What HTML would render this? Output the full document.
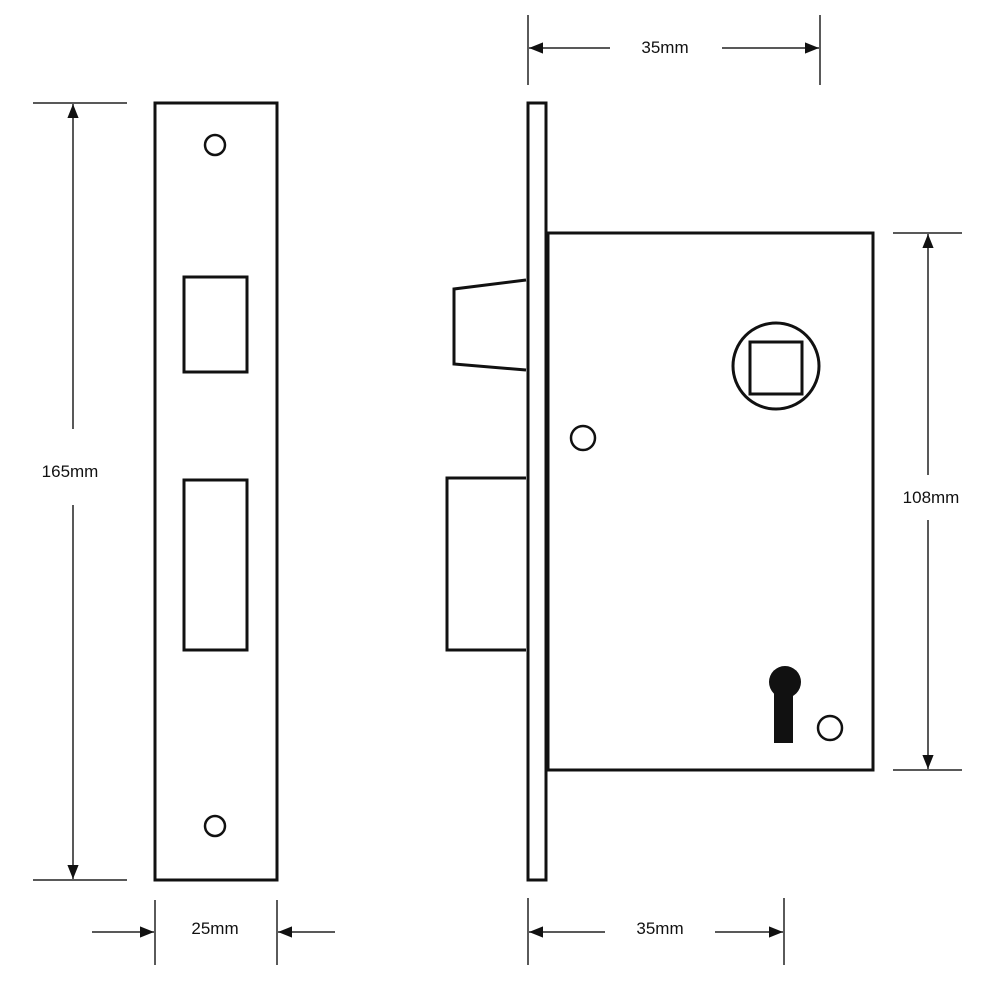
<!DOCTYPE html>
<html><head><style>html,body{margin:0;padding:0;background:#fff}</style></head><body>
<svg width="1000" height="1000" viewBox="0 0 1000 1000" xmlns="http://www.w3.org/2000/svg">
<defs>
<marker id="a" viewBox="0 0 10 10" refX="10" refY="5" markerWidth="14" markerHeight="14" markerUnits="userSpaceOnUse" orient="auto"><path d="M0,1 L10,5 L0,9 Z" fill="#111"/></marker>
</defs>
<g fill="none" stroke="#111" stroke-width="3">
<rect x="155" y="103" width="122" height="777"/>
<circle cx="215" cy="145" r="10" stroke-width="2.5"/>
<circle cx="215" cy="826" r="10" stroke-width="2.5"/>
<rect x="184" y="277" width="63" height="95"/>
<rect x="184" y="480" width="63" height="170"/>
<rect x="528" y="103" width="18" height="777"/>
<rect x="548" y="233" width="325" height="537"/>
<path d="M526,280 L454,289 L454,364 L526,370"/>
<path d="M526,478 L447,478 L447,650 L526,650"/>
<circle cx="776" cy="366" r="43"/>
<rect x="750" y="342" width="52" height="52"/>
<circle cx="583" cy="438" r="12" stroke-width="2.5"/>
<circle cx="830" cy="728" r="12" stroke-width="2.5"/>
</g>
<circle cx="785" cy="682" r="16" fill="#111"/>
<rect x="774" y="685" width="19" height="58" fill="#111"/>
<g stroke="#222" stroke-width="1.5" fill="none">
<line x1="33" y1="103" x2="127" y2="103"/><line x1="33" y1="880" x2="127" y2="880"/>
<line x1="73" y1="429" x2="73" y2="104" marker-end="url(#a)"/>
<line x1="73" y1="505" x2="73" y2="879" marker-end="url(#a)"/>
<line x1="155" y1="900" x2="155" y2="965"/><line x1="277" y1="900" x2="277" y2="965"/>
<line x1="92" y1="932" x2="154" y2="932" marker-end="url(#a)"/>
<line x1="335" y1="932" x2="278" y2="932" marker-end="url(#a)"/>
<line x1="528" y1="15" x2="528" y2="85"/><line x1="820" y1="15" x2="820" y2="85"/>
<line x1="610" y1="48" x2="529" y2="48" marker-end="url(#a)"/>
<line x1="722" y1="48" x2="819" y2="48" marker-end="url(#a)"/>
<line x1="893" y1="233" x2="962" y2="233"/><line x1="893" y1="770" x2="962" y2="770"/>
<line x1="928" y1="475" x2="928" y2="234" marker-end="url(#a)"/>
<line x1="928" y1="520" x2="928" y2="769" marker-end="url(#a)"/>
<line x1="528" y1="898" x2="528" y2="965"/><line x1="784" y1="898" x2="784" y2="965"/>
<line x1="605" y1="932" x2="529" y2="932" marker-end="url(#a)"/>
<line x1="715" y1="932" x2="783" y2="932" marker-end="url(#a)"/>
</g>
<g font-family="Liberation Sans, sans-serif" font-size="17" fill="#111" text-anchor="middle">
<text x="70" y="477">165mm</text>
<text x="215" y="934">25mm</text>
<text x="665" y="53">35mm</text>
<text x="931" y="503">108mm</text>
<text x="660" y="934">35mm</text>
</g>
</svg>
</body></html>
